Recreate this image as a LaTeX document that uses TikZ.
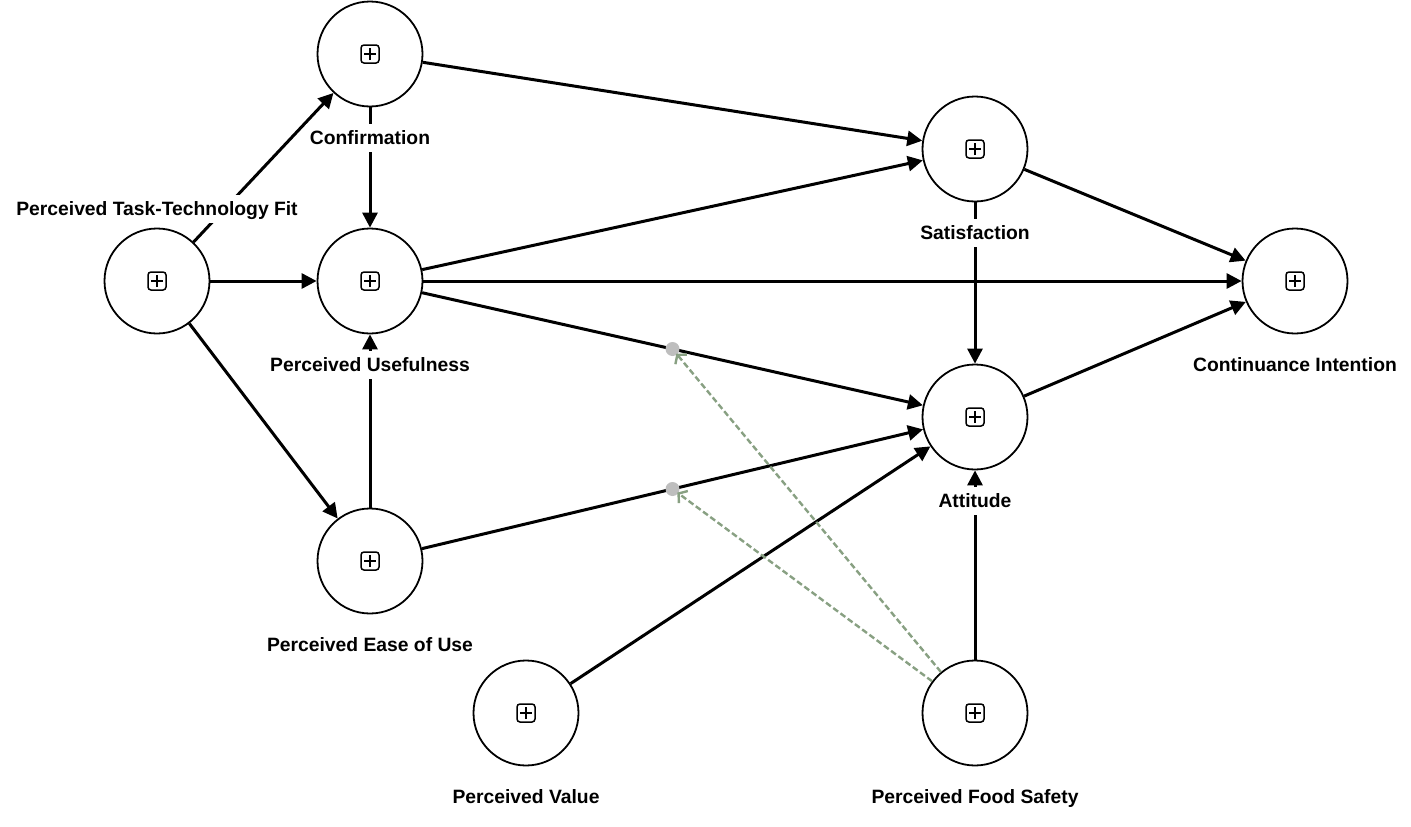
\documentclass[tikz,border=0pt]{standalone}
\usepackage{fontspec}
\setmainfont{Liberation Sans}
\usetikzlibrary{arrows.meta}
\definecolor{modgreen}{RGB}{136,160,130}
\definecolor{dotgray}{RGB}{190,190,190}

\begin{document}
\begin{tikzpicture}[x=1pt,y=-1pt,
  lv/.style={circle,draw,fill=white,line width=1.8pt,minimum size=105pt,inner sep=0pt,
    path picture={
      \draw[line width=1.5pt,rounded corners=3pt] ([shift={(-9pt,-9pt)}]path picture bounding box.center) rectangle ([shift={(9pt,9pt)}]path picture bounding box.center);
      \draw[line width=1.5pt] ([xshift=-6pt]path picture bounding box.center) -- ([xshift=6pt]path picture bounding box.center)
        ([yshift=-6pt]path picture bounding box.center) -- ([yshift=6pt]path picture bounding box.center);}},
  lbl/.style={fill=white,font=\bfseries\fontsize{19.3}{22}\selectfont,inner xsep=4pt,inner ysep=6pt,text height=14pt,text depth=2pt},
  rel/.style={line width=3pt,-{Triangle[length=15pt,width=15pt]}},
  mod/.style={draw=modgreen,line width=2.4pt,dash pattern=on 6pt off 3pt,-{Straight Barb[length=6pt,width=15pt]},shorten >=6pt}]
\useasboundingbox (0,0) rectangle (1411,827);
% constructs
\node[lv] (conf) at (370,54) {};
\node[lv] (pttf) at (157,281) {};
\node[lv] (pu) at (370,281) {};
\node[lv] (peou) at (370,561) {};
\node[lv] (sat) at (975,149) {};
\node[lv] (att) at (975,417) {};
\node[lv] (ci) at (1295,281) {};
\node[lv] (pv) at (526,713) {};
\node[lv] (pfs) at (975,713) {};
% paths
\foreach \a/\b in {pttf/conf,pttf/pu,pttf/peou,conf/pu,conf/sat,peou/pu,pu/sat,pu/ci,pu/att,peou/att,pv/att,pfs/att,sat/att,sat/ci,att/ci}
\draw[rel] (\a) -- (\b);
% moderating effects of food safety
\path (pu) -- (att) coordinate[pos=0.5] (mpu);
\path (peou) -- (att) coordinate[pos=0.5] (mpeou);
\fill[dotgray] (mpu) circle (7pt);
\fill[dotgray] (mpeou) circle (7pt);
\draw[mod] (pfs) -- (mpu);
\draw[mod] (pfs) -- (mpeou);
% names
\node[lbl] (conf-l) at ([yshift=-84pt]conf) {Confirmation};
\node[lbl] (pttf-l) at ([yshift=72pt]pttf) {Perceived Task-Technology Fit};
\node[lbl] (pu-l) at ([yshift=-84pt]pu) {Perceived Usefulness};
\node[lbl] (peou-l) at ([yshift=-84pt]peou) {Perceived Ease of Use};
\node[lbl] (sat-l) at ([yshift=-84pt]sat) {Satisfaction};
\node[lbl] (att-l) at ([yshift=-84pt]att) {Attitude};
\node[lbl] (ci-l) at ([yshift=-84pt]ci) {Continuance Intention};
\node[lbl] (pv-l) at ([yshift=-84pt]pv) {Perceived Value};
\node[lbl] (pfs-l) at ([yshift=-84pt]pfs) {Perceived Food Safety};
\end{tikzpicture}
\end{document}
